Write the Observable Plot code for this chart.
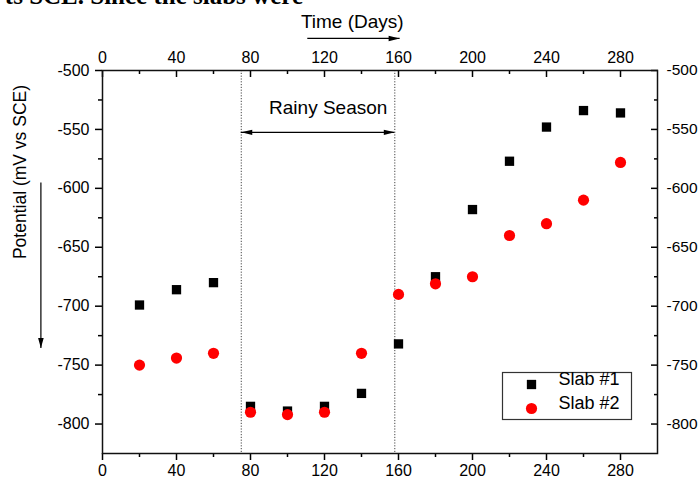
<!DOCTYPE html>
<html><head><meta charset="utf-8">
<script src="https://cdn.jsdelivr.net/npm/d3@7"></script>
<script src="https://cdn.jsdelivr.net/npm/@observablehq/plot@0.6"></script>
<style>
body{margin:0;background:#fff;}
#wrap{position:relative;width:699px;height:479px;overflow:hidden;}
#cut{position:absolute;right:396px;top:-17px;font:bold 25px 'Liberation Serif',serif;line-height:25px;white-space:nowrap;color:#000;}
</style></head><body>
<div id="wrap"><div id="cut">ts SCE. Since the slabs were</div></div>
<script>
// ---- data ----
const days  = [20, 40, 60, 80, 100, 120, 140, 160, 180, 200, 220, 240, 260, 280];
const slab1 = [-699, -686, -680, -785, -789, -785, -774, -732, -675, -618, -577, -548, -534, -536];
const slab2 = [-750, -744, -740, -790, -792, -790, -740, -690, -681, -675, -640, -630, -610, -578];
const seriesNames = ["Slab #1", "Slab #2"];

const xMajorTicks = [0, 40, 80, 120, 160, 200, 240, 280];
const xMinorTicks = [20, 60, 100, 140, 180, 220, 260];
const yMajorTicks = [-500, -550, -600, -650, -700, -750, -800];
const yMinorTicks = [-525, -575, -625, -675, -725, -775];

const xTitle = "Time (Days)";
const yTitle = "Potential (mV vs SCE)";
const rainyLabel = "Rainy Season";
const rainyBounds = [75, 158];
const rainyArrowY = [-552.5];
const rainyLabelPos = [{x: 122, y: -532}];
const timeArrow = [{x1: 110.7, x2: 160.6, y: -472.8}];
const potArrow = [{x: -33.3, y1: -595, y2: -735.5}];

// ---- build ----
const rows1 = days.map((d, i) => ({day: d, v: slab1[i]}));
const rows2 = days.map((d, i) => ({day: d, v: slab2[i]}));

const headRight = {draw(c){ c.moveTo(0,0); c.lineTo(-11,-2.7); c.lineTo(-11,2.7); c.closePath(); }};
const headLeft  = {draw(c){ c.moveTo(0,0); c.lineTo(11,-2.7); c.lineTo(11,2.7); c.closePath(); }};
const headDown  = {draw(c){ c.moveTo(0,0); c.lineTo(-2.8,-10); c.lineTo(2.8,-10); c.closePath(); }};

const fmt = d => String(d);
const ax = {label: null, strokeWidth: 1.5};

const chart = Plot.plot({
  width: 699, height: 479,
  marginLeft: 102, marginRight: 42, marginTop: 70, marginBottom: 26,
  style: {fontFamily: "'Liberation Sans', Arial, sans-serif", fontSize: "16px", color: "#000", background: "transparent"},
  x: {domain: [0, 300]},
  y: {domain: [-825, -500]},
  marks: [
    Plot.ruleX(rainyBounds, {stroke: "#444", strokeDasharray: "1.2,1.6", strokeWidth: 1}),
    Plot.axisX(xMajorTicks, {...ax, anchor: "bottom", tickSize: 7, tickPadding: 4, tickFormat: fmt}),
    Plot.axisX(xMinorTicks, {...ax, anchor: "bottom", tickSize: 4, tickFormat: () => ""}),
    Plot.axisX(xMajorTicks, {...ax, anchor: "top", tickSize: 0, tickPadding: 8, tickFormat: fmt}),
    Plot.axisX(xMajorTicks, {...ax, anchor: "top", tickSize: -6, tickFormat: () => ""}),
    Plot.axisX(xMinorTicks, {...ax, anchor: "top", tickSize: -3, tickFormat: () => ""}),
    Plot.axisY(yMajorTicks, {...ax, anchor: "left", tickSize: 7, tickPadding: 6, tickFormat: fmt}),
    Plot.axisY(yMinorTicks, {...ax, anchor: "left", tickSize: 4, tickFormat: () => ""}),
    Plot.axisY(yMajorTicks, {...ax, anchor: "right", tickSize: 0, tickPadding: 9, tickFormat: fmt, fontSize: 15.5}),
    Plot.axisY(yMajorTicks, {...ax, anchor: "right", tickSize: -7, tickFormat: () => ""}),
    Plot.axisY(yMinorTicks, {...ax, anchor: "right", tickSize: -4, tickFormat: () => ""}),
    Plot.frame({stroke: "#111", strokeWidth: 1.5}),
    Plot.dot(rows1, {x: "day", y: "v", symbol: "square", r: 5.25, fill: "#000", stroke: "none"}),
    Plot.dot(rows2, {x: "day", y: "v", symbol: "circle", r: 5.6, fill: "#ff0000", stroke: "none"}),
    Plot.ruleY(rainyArrowY, {x1: rainyBounds[0], x2: rainyBounds[1], stroke: "#000", strokeWidth: 1.3}),
    Plot.dot(rainyArrowY, {x: () => rainyBounds[0], y: d => d, symbol: headLeft, fill: "#000", stroke: "none"}),
    Plot.dot(rainyArrowY, {x: () => rainyBounds[1], y: d => d, symbol: headRight, fill: "#000", stroke: "none"}),
    Plot.text(rainyLabelPos, {x: "x", y: "y", text: () => rainyLabel, fontSize: 19}),
    Plot.text([xTitle], {x: () => 135, frameAnchor: "top", dy: -56, text: d => d, fontSize: 19}),
    Plot.link(timeArrow, {x1: "x1", x2: "x2", y1: "y", y2: "y", stroke: "#000", strokeWidth: 1.2}),
    Plot.dot(timeArrow, {x: "x2", y: "y", symbol: headRight, fill: "#000", stroke: "none"}),
    Plot.text([yTitle], {y: () => -660, frameAnchor: "left", dx: -82, rotate: -90, text: d => d, fontSize: 17.5}),
    Plot.link(potArrow, {x1: "x", x2: "x", y1: "y1", y2: "y2", stroke: "#000", strokeWidth: 1.2}),
    Plot.dot(potArrow, {x: "x", y: "y2", symbol: headDown, fill: "#000", stroke: "none"}),
    Plot.frame({insetLeft: 400, insetRight: 26, insetTop: 302, insetBottom: 34, stroke: "#333", strokeWidth: 1.2, fill: "#fff"}),
    Plot.dot([0], {frameAnchor: "bottom-right", dx: -126, dy: -69, symbol: "square", r: 5.25, fill: "#000", stroke: "none"}),
    Plot.dot([0], {frameAnchor: "bottom-right", dx: -126, dy: -45, symbol: "circle", r: 5.6, fill: "#ff0000", stroke: "none"}),
    Plot.text(seriesNames, {frameAnchor: "bottom-right", dx: -99, dy: -69, text: d => d, textAnchor: "start", fontSize: 18, filter: (d, i) => i === 0}),
    Plot.text(seriesNames, {frameAnchor: "bottom-right", dx: -99, dy: -45, text: d => d, textAnchor: "start", fontSize: 18, filter: (d, i) => i === 1})
  ]
});
const wrap = document.getElementById("wrap");
wrap.insertBefore(chart, wrap.firstChild);
</script>
</body></html>
